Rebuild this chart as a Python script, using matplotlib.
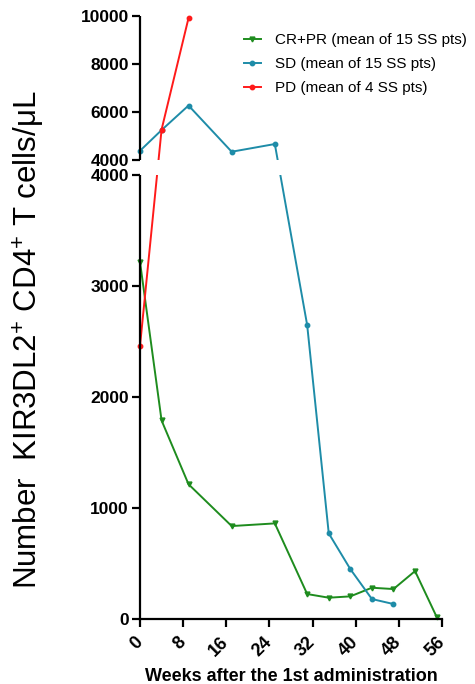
import numpy as np
import matplotlib
matplotlib.use("Agg")
import matplotlib.pyplot as plt

plt.rcParams['font.family'] = ['Liberation Sans', 'DejaVu Sans']
plt.rcParams['mathtext.fontset'] = 'custom'
plt.rcParams['mathtext.rm'] = 'Liberation Sans'
plt.rcParams['mathtext.it'] = 'Liberation Sans:italic'
plt.rcParams['mathtext.bf'] = 'Liberation Sans:bold'

# ---- data ----
crpr_weeks = [0, 4, 9, 17, 25, 31, 35, 39, 43, 47, 51, 55]
crpr_vals = [3220, 1790, 1215, 838, 862, 225, 192, 204, 282, 270, 432, 20]

sd_weeks = [0, 4, 9, 17, 25, 31, 35, 39, 43, 47]
sd_vals = [4400, 5260, 6280, 4360, 4680, 2650, 772, 450, 180, 135]

pd_weeks = [0, 4, 9]
pd_vals = [2462, 5280, 9917]

x_ticks = [0, 8, 16, 24, 32, 40, 48, 56]
y_ticks = [0, 1000, 2000, 3000, 4000, 4001, 6000, 8000, 10000]
y_tick_labels = ['0', '1000', '2000', '3000', '4000', '4000', '6000', '8000', '10000']

labels = ['CR+PR (mean of 15 SS pts)', 'SD (mean of 15 SS pts)', 'PD (mean of 4 SS pts)']
colors = ['#1E8C1E', '#1E8CA8', '#FF1A1A']

# ---- broken-axis scale ----
BREAK = 4000.0
GAP = 135.0
R = 0.217


def fwd(v):
    v = np.asarray(v, dtype=float)
    return np.where(v <= BREAK, v, BREAK + GAP + (v - BREAK) * R)


def inv(u):
    u = np.asarray(u, dtype=float)
    return np.where(u <= BREAK, u,
                    np.where(u < BREAK + GAP, BREAK, BREAK + (u - BREAK - GAP) / R))


fig = plt.figure(figsize=(4.75, 6.84), dpi=100)
ax = fig.add_axes([140 / 475, 1 - 619 / 684, 302 / 475, 603 / 684])
ax.set_yscale('function', functions=(fwd, inv))

ax.plot(crpr_weeks, crpr_vals, color=colors[0], lw=1.4, marker='v', ms=3.5,
        label=labels[0], clip_on=False, zorder=2)
ax.plot(sd_weeks, sd_vals, color=colors[1], lw=1.4, marker='o', ms=3.2,
        label=labels[1], clip_on=False, zorder=2)
ax.plot(pd_weeks, pd_vals, color=colors[2], lw=1.4, marker='o', ms=3.2,
        label=labels[2], clip_on=False, zorder=2)

ax.set_xlim(0, 56)
ax.set_ylim(0, 10000)

# gap of the broken axis
ax.axhspan(BREAK, BREAK + 1, color='white', lw=0, zorder=3)

for s in ['top', 'right']:
    ax.spines[s].set_visible(False)
ax.spines['left'].set_bounds(0, BREAK)
ax.spines['left'].set_linewidth(1.6)
ax.spines['bottom'].set_linewidth(1.6)
ax.plot([0, 0], [BREAK + 1, 10000], transform=ax.get_yaxis_transform(),
        color='black', lw=1.6, clip_on=False, solid_capstyle='butt', zorder=4)

ax.set_yticks(y_ticks)
ax.set_yticklabels(y_tick_labels, fontsize=12.5, fontweight='bold')
ax.set_xticks(x_ticks)
ax.set_xticklabels([str(t) for t in x_ticks], fontsize=13, fontweight='bold',
                   rotation=45, ha='right', va='center', rotation_mode='anchor')
ax.tick_params(axis='both', length=6, width=1.6, pad=2)
ax.tick_params(axis='x', pad=9)

ax.set_xlabel('Weeks after the 1st administration', fontsize=13, fontweight='bold')
ax.xaxis.set_label_coords(0.5, (619 - 668) / 603)
ax.set_ylabel('Number  KIR3DL2$^{+}$ CD4$^{+}$ T cells/μL', fontsize=22.5)
ax.yaxis.set_label_coords((47 - 140) / 302, (619 - 340) / 603)

fig.legend(loc='upper left', bbox_to_anchor=(244 / 475, 1 - 33 / 684),
           frameon=False, fontsize=11, handlelength=1.1, handletextpad=0.9,
           labelspacing=0.65, borderpad=0, borderaxespad=0)

fig.savefig('out.png', dpi=100)
